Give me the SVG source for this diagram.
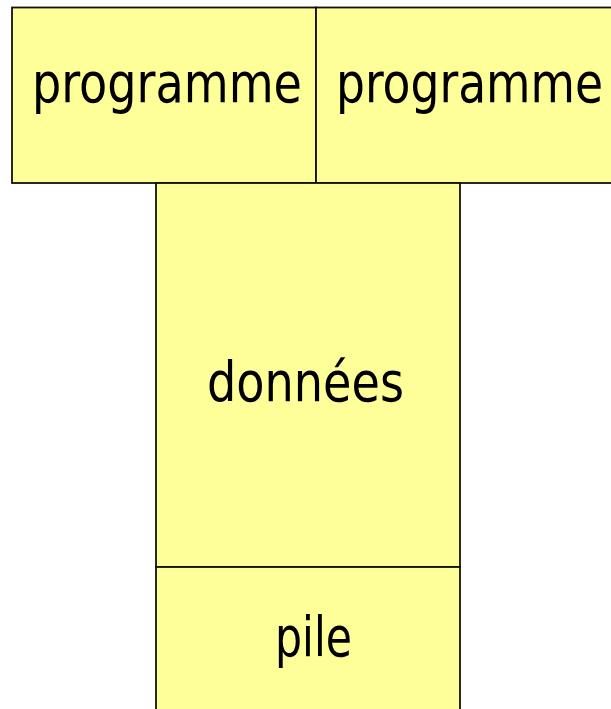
<svg xmlns="http://www.w3.org/2000/svg" width="611" height="709" viewBox="0 0 611 709">
  <style>
    .box { fill: #FFFF99; stroke: #111111; stroke-width: 1.8; }
    .lbl { font-family: "DejaVu Sans Condensed", "DejaVu Sans", sans-serif; font-size: 55px; fill: #000; }
  </style>
  <rect x="0" y="0" width="611" height="709" fill="#ffffff"/>
  <g id="programme-1">
    <rect class="box" x="12" y="7.5" width="304" height="175.5"/>
    <text class="lbl" x="32" y="102" textLength="270" lengthAdjust="spacingAndGlyphs">programme</text>
  </g>
  <g id="programme-2">
    <rect class="box" x="316" y="7.5" width="310" height="175.5"/>
    <text class="lbl" x="336" y="102" textLength="267" lengthAdjust="spacingAndGlyphs">programme</text>
  </g>
  <g id="donnees">
    <rect class="box" x="156" y="183" width="304" height="384"/>
    <text class="lbl" x="207" y="401" textLength="197" lengthAdjust="spacingAndGlyphs">données</text>
  </g>
  <g id="pile">
    <rect class="box" x="156" y="567" width="304" height="160"/>
    <text class="lbl" x="275" y="656" textLength="77" lengthAdjust="spacingAndGlyphs">pile</text>
  </g>
  <g id="connectors"></g>
</svg>
